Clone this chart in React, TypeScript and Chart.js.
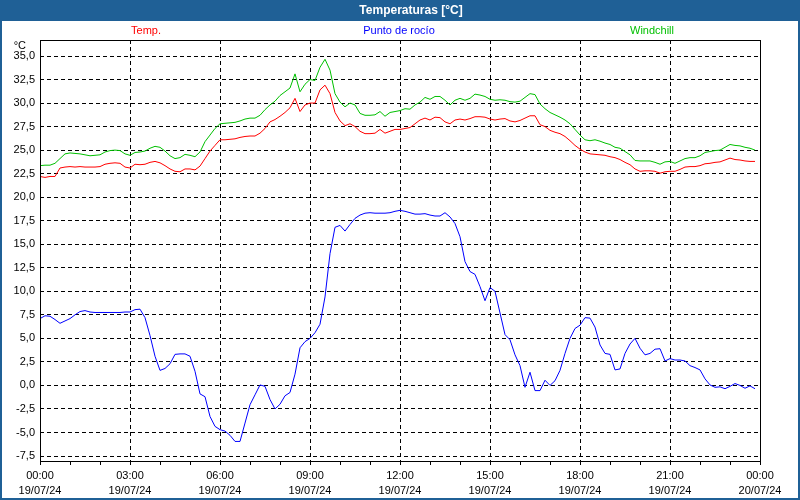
import React, { useEffect, useRef } from "react";
import { Chart, registerables } from "chart.js";

Chart.register(...registerables);

// Sample interval in minutes (one reading every 10 minutes from 00:00 19/07/24)
const STEP_MIN = 10;

const tickTimes = ["00:00", "03:00", "06:00", "09:00", "12:00", "15:00", "18:00", "21:00", "00:00"];
const tickDates = ["19/07/24", "19/07/24", "19/07/24", "19/07/24", "19/07/24", "19/07/24", "19/07/24", "19/07/24", "20/07/24"];

const seriesNames = ["Temp.", "Punto de rocío", "Windchill"];

const tempValues = [
  22.2, 22.1, 22.2, 22.2, 23.1, 23.2, 23.25, 23.2, 23.25, 23.2,
  23.2, 23.2, 23.25, 23.5, 23.6, 23.65, 23.6, 23.2, 23.1, 23.5,
  23.45, 23.5, 23.7, 23.8, 23.65, 23.35, 23.0, 22.75, 22.7, 23.0,
  23.0, 22.9, 23.3, 24.1, 24.9, 25.5, 26.1, 26.1, 26.15, 26.2,
  26.35, 26.45, 26.5, 26.5, 26.8, 27.3, 28.0, 28.25, 28.6, 29.0,
  29.5, 30.5, 29.1, 29.8, 30.0, 30.0, 31.4, 31.9, 31.0, 29.0,
  28.1, 27.6, 27.8, 27.5, 27.0, 26.75, 26.75, 26.8, 27.2, 26.8,
  27.0, 27.2, 27.2, 27.3, 27.4, 27.8, 28.2, 28.4, 28.2, 28.5,
  28.45, 28.0, 27.8, 28.2, 28.3, 28.2, 28.35, 28.55, 28.55, 28.5,
  28.3, 28.2, 28.3, 28.35, 28.1, 28.0, 28.15, 28.4, 28.65, 28.65,
  27.7, 27.5, 27.1, 26.9, 26.75, 26.45, 26.0, 25.5, 25.1, 24.8,
  24.6, 24.55, 24.5, 24.45, 24.3, 24.2, 24.0, 23.7, 23.45, 23.0,
  22.75, 22.8, 22.8, 22.75, 22.55, 22.7, 22.75, 22.75, 22.95, 23.2,
  23.25, 23.25, 23.35, 23.55, 23.6, 23.7, 23.75, 23.95, 24.15, 24.0,
  23.95, 23.85, 23.8, 23.8,
];

const dewValues = [
  7.1, 7.4, 7.35, 7.0, 6.6, 6.85, 7.1, 7.5, 7.85, 7.95,
  7.8, 7.75, 7.75, 7.75, 7.75, 7.75, 7.75, 7.8, 7.8, 8.05,
  8.1, 7.2, 5.3, 3.1, 1.6, 1.8, 2.3, 3.3, 3.35, 3.35,
  3.1, 1.5, -0.9, -1.2, -3.3, -4.35, -4.7, -4.85, -5.3, -5.95,
  -5.95, -4.0, -2.05, -1.0, 0.05, -0.1, -1.5, -2.5, -2.0, -1.1,
  -0.75, 1.2, 4.0, 4.65, 5.0, 5.6, 6.5, 9.4, 14.0, 16.8,
  17.0, 16.4, 17.1, 17.75, 18.1, 18.3, 18.35, 18.3, 18.3, 18.3,
  18.35, 18.5, 18.6, 18.5, 18.35, 18.2, 18.2, 18.25, 18.1, 18.0,
  18.0, 18.35, 17.9, 17.2, 15.8, 13.15, 12.1, 11.8, 10.5, 9.0,
  10.4, 10.0, 7.7, 5.4, 4.85, 3.25, 2.1, -0.2, 1.4, -0.55,
  -0.55, 0.55, 0.0, 0.5, 1.6, 3.4, 5.0, 6.05, 6.4, 7.2,
  7.15, 6.2, 4.3, 3.4, 3.3, 1.65, 1.75, 3.4, 4.4, 5.0,
  3.95, 3.25, 3.4, 3.85, 3.9, 2.6, 2.85, 2.7, 2.7, 2.6,
  2.1, 1.9, 1.65, 0.7, 0.05, -0.2, -0.15, -0.35, -0.1, 0.2,
  0.0, -0.3, -0.05, -0.35,
];

const windValues = [
  23.35, 23.4, 23.4, 23.6, 24.1, 24.6, 24.7, 24.65, 24.6, 24.5,
  24.4, 24.45, 24.5, 24.8, 24.95, 25.0, 24.95, 24.6, 24.45, 24.75,
  24.8, 24.9, 25.2, 25.4, 25.3, 24.9, 24.4, 24.1, 24.2, 24.55,
  24.45, 24.3, 24.8, 25.9, 26.6, 27.3, 27.8, 27.85, 27.9, 27.95,
  28.1, 28.3, 28.4, 28.4, 28.7, 29.3, 29.8, 30.2, 30.8, 31.2,
  31.6, 33.1, 31.2, 32.0, 32.5, 32.4, 33.8, 34.65, 33.5, 31.0,
  30.1, 29.6, 30.0, 29.8, 28.9, 28.7, 28.7, 28.75, 29.1, 28.6,
  29.0, 29.1, 29.2, 29.4, 29.35, 29.8, 30.1, 30.6, 30.4, 30.7,
  30.7, 30.3, 29.8, 30.3, 30.5, 30.3, 30.5, 30.95, 30.85, 30.7,
  30.4, 30.3, 30.35, 30.3, 30.15, 30.1, 30.2, 30.6, 31.0, 30.9,
  29.9, 29.4, 29.0, 28.75, 28.5, 28.2, 27.8, 27.2, 26.6, 26.1,
  26.0, 26.1, 25.95, 25.75, 25.6, 25.3, 25.2, 24.85, 24.5, 23.9,
  23.85, 23.85, 23.85, 23.7, 23.5, 23.75, 23.8, 23.6, 23.85, 24.1,
  24.2, 24.2, 24.4, 24.75, 24.85, 24.95, 25.0, 25.3, 25.6, 25.5,
  25.45, 25.3, 25.2, 25.0,
];

const FONT = '"Liberation Sans", Arial, sans-serif';

const toPoints = (vals: number[]) => vals.map((v, i) => ({ x: i * STEP_MIN, y: v }));

const framePlugin = {
  id: "frame",
  beforeDraw(chart: any) {
    const ctx = chart.ctx;
    ctx.save();
    ctx.fillStyle = "#ffffff";
    ctx.fillRect(0, 0, chart.width, chart.height);
    // title bar
    ctx.fillStyle = "#1f6096";
    ctx.fillRect(0, 0, chart.width, 21);
    ctx.fillStyle = "#ffffff";
    ctx.font = `bold 12px ${FONT}`;
    ctx.textAlign = "center";
    ctx.textBaseline = "middle";
    ctx.fillText("Temperaturas [°C]", 411, 11);
    // series labels
    ctx.font = `11px ${FONT}`;
    ctx.fillStyle = "#ff0000";
    ctx.fillText(seriesNames[0], 146, 31);
    ctx.fillStyle = "#0000ff";
    ctx.fillText(seriesNames[1], 399, 31);
    ctx.fillStyle = "#00c000";
    ctx.fillText(seriesNames[2], 652, 31);
    // unit
    ctx.fillStyle = "#000000";
    ctx.textAlign = "right";
    ctx.fillText("°C", 26, 46);
    ctx.restore();
  },
  afterDraw(chart: any) {
    const ctx = chart.ctx;
    const a = chart.chartArea;
    ctx.save();
    ctx.strokeStyle = "#000000";
    ctx.lineWidth = 1;
    ctx.setLineDash([]);
    ctx.strokeRect(Math.round(a.left) + 0.5, Math.round(a.top) + 0.5, Math.round(a.right - a.left), Math.round(a.bottom - a.top));
    ctx.strokeStyle = "#1f6096";
    ctx.lineWidth = 2;
    ctx.strokeRect(1, 1, chart.width - 2, chart.height - 2);
    ctx.restore();
  },
};

export default function App() {
  const ref = useRef<HTMLCanvasElement | null>(null);

  useEffect(() => {
    document.body.style.margin = "0";
    if (!ref.current) return;
    const chart = new Chart(ref.current, {
      type: "line",
      data: {
        datasets: [
          { label: seriesNames[0], data: toPoints(tempValues), borderColor: "#ff0000", borderWidth: 1, pointRadius: 0, tension: 0, fill: false },
          { label: seriesNames[1], data: toPoints(dewValues), borderColor: "#0000ff", borderWidth: 1, pointRadius: 0, tension: 0, fill: false },
          { label: seriesNames[2], data: toPoints(windValues), borderColor: "#00c000", borderWidth: 1, pointRadius: 0, tension: 0, fill: false },
        ],
      },
      options: {
        animation: false,
        responsive: false,
        maintainAspectRatio: false,
        layout: { padding: { left: 0, top: 40, right: 40, bottom: 0 } },
        plugins: { legend: { display: false }, title: { display: false }, tooltip: { enabled: false } },
        scales: {
          x: {
            type: "linear",
            min: 0,
            max: 1440,
            afterFit: (s: any) => { s.height = 39; },
            ticks: {
              stepSize: 60,
              autoSkip: false,
              maxRotation: 0,
              color: "#000000",
              padding: 3,
              font: { family: FONT, size: 11, lineHeight: 1.4 },
              callback: (v: any) => {
                const n = Number(v);
                if (n % 180 !== 0) return "";
                const k = n / 180;
                return [tickTimes[k], tickDates[k]];
              },
            },
            grid: {
              color: (c: any) => {
                const v = c.tick ? c.tick.value : -1;
                return v % 180 === 0 && v > 0 && v < 1440 ? "#000000" : "rgba(0,0,0,0)";
              },
              tickColor: "#000000",
              tickLength: 4,
              lineWidth: 1,
              tickBorderDash: [],
            },
            border: { display: false, dash: [4, 3] },
          },
          y: {
            type: "linear",
            min: -8.03,
            max: 36.7,
            afterFit: (s: any) => { s.width = 40; },
            ticks: {
              stepSize: 2.5,
              includeBounds: false,
              color: "#000000",
              padding: 5,
              font: { family: FONT, size: 11 },
              callback: (v: any) => Number(v).toFixed(1).replace(".", ","),
            },
            grid: { color: "#000000", drawTicks: false, lineWidth: 1 },
            border: { display: false, dash: [4, 3] },
          },
        },
      },
      plugins: [framePlugin],
    });
    return () => chart.destroy();
  }, []);

  return (
    <div style={{ position: "fixed", left: 0, top: 0, width: 800, height: 500 }}>
      <canvas ref={ref} width={800} height={500} />
    </div>
  );
}
